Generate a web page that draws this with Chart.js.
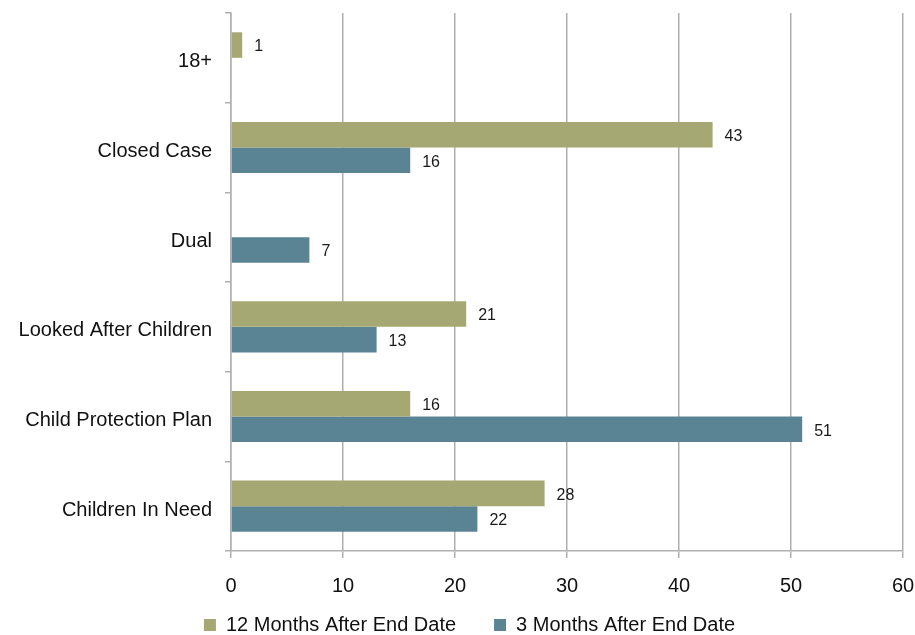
<!DOCTYPE html>
<html>
<head>
<meta charset="utf-8">
<script src="https://cdn.jsdelivr.net/npm/chart.js@4"></script>
<style>
  html, body { margin: 0; padding: 0; background: #fff; }
  #wrap { width: 915px; height: 635px; }
</style>
</head>
<body>
<div id="wrap"><canvas id="chart"></canvas></div>
<script>
const categories = ['18+', 'Closed Case', 'Dual', 'Looked After Children', 'Child Protection Plan', 'Children In Need'];
const twelveMonths = [1, 43, null, 21, 16, 28];
const threeMonths = [null, 16, 7, 13, 51, 22];
const xTicks = [0, 10, 20, 30, 40, 50, 60];

const gridColor = '#b0b0b0';
const fontFamily = '"Liberation Sans", Arial, sans-serif';

// draws the value at the end of each bar
const valueLabels = {
    id: 'valueLabels',
    afterDatasetsDraw(chart) {
        const ctx = chart.ctx;
        ctx.save();
        ctx.font = '16px ' + fontFamily;
        ctx.fillStyle = '#1a1a1a';
        ctx.textBaseline = 'middle';
        ctx.textAlign = 'left';
        chart.data.datasets.forEach((ds, i) => {
            chart.getDatasetMeta(i).data.forEach((bar, j) => {
                if (ds.data[j] == null) return;
                ctx.fillText(ds.data[j], bar.x + 12, bar.y + 2);
            });
        });
        ctx.restore();
    }
};

// axis boxes are kept tight for the layout, let their labels draw past them
const unclipLabels = {
    id: 'unclipLabels',
    afterLayout(chart) {
        chart.scales.x.bottom = chart.height;
        chart.scales.y.left = 0;
    }
};

new Chart(document.getElementById('chart'), {
    type: 'bar',
    data: {
        labels: categories,
        datasets: [{
            label: '12 Months After End Date',
            data: twelveMonths,
            backgroundColor: '#a6a874'
        }, {
            label: '3 Months After End Date',
            data: threeMonths,
            backgroundColor: '#5a8394'
        }]
    },
    options: {
        indexAxis: 'y',
        responsive: true,
        maintainAspectRatio: false,
        animation: false,
        categoryPercentage: 0.57,
        barPercentage: 1.0,
        layout: {
            padding: { top: 13, right: 12, left: 36, bottom: -10 }
        },
        scales: {
            x: {
                min: 0,
                max: 60,
                afterBuildTicks: (scale) => {
                    scale.ticks = xTicks.map(v => ({ value: v }));
                },
                afterFit: (scale) => {
                    scale.height = 26;
                    scale.paddingLeft = 0;
                    scale.paddingRight = 0;
                },
                grid: {
                    color: gridColor,
                    lineWidth: 1.5,
                    tickLength: 7,
                    tickColor: gridColor
                },
                border: { display: true, color: gridColor, width: 1.5 },
                ticks: {
                    color: '#111',
                    font: { family: fontFamily, size: 20 },
                    padding: 16
                }
            },
            y: {
                afterFit: (scale) => {
                    scale.width = 195;
                    scale.paddingTop = 0;
                    scale.paddingBottom = 0;
                },
                grid: {
                    drawOnChartArea: false,
                    drawTicks: true,
                    tickLength: 6,
                    tickColor: gridColor,
                    lineWidth: 1.5
                },
                border: { display: true, color: gridColor, width: 1.5 },
                ticks: {
                    color: '#111',
                    font: { family: fontFamily, size: 20 },
                    padding: 13,
                    labelOffset: 4
                }
            }
        },
        plugins: {
            legend: {
                position: 'bottom',
                labels: {
                    color: '#111',
                    font: { family: fontFamily, size: 20 },
                    boxWidth: 12,
                    boxHeight: 12,
                    padding: 38
                }
            },
            tooltip: { enabled: false }
        }
    },
    plugins: [valueLabels, unclipLabels]
});
</script>
</body>
</html>
